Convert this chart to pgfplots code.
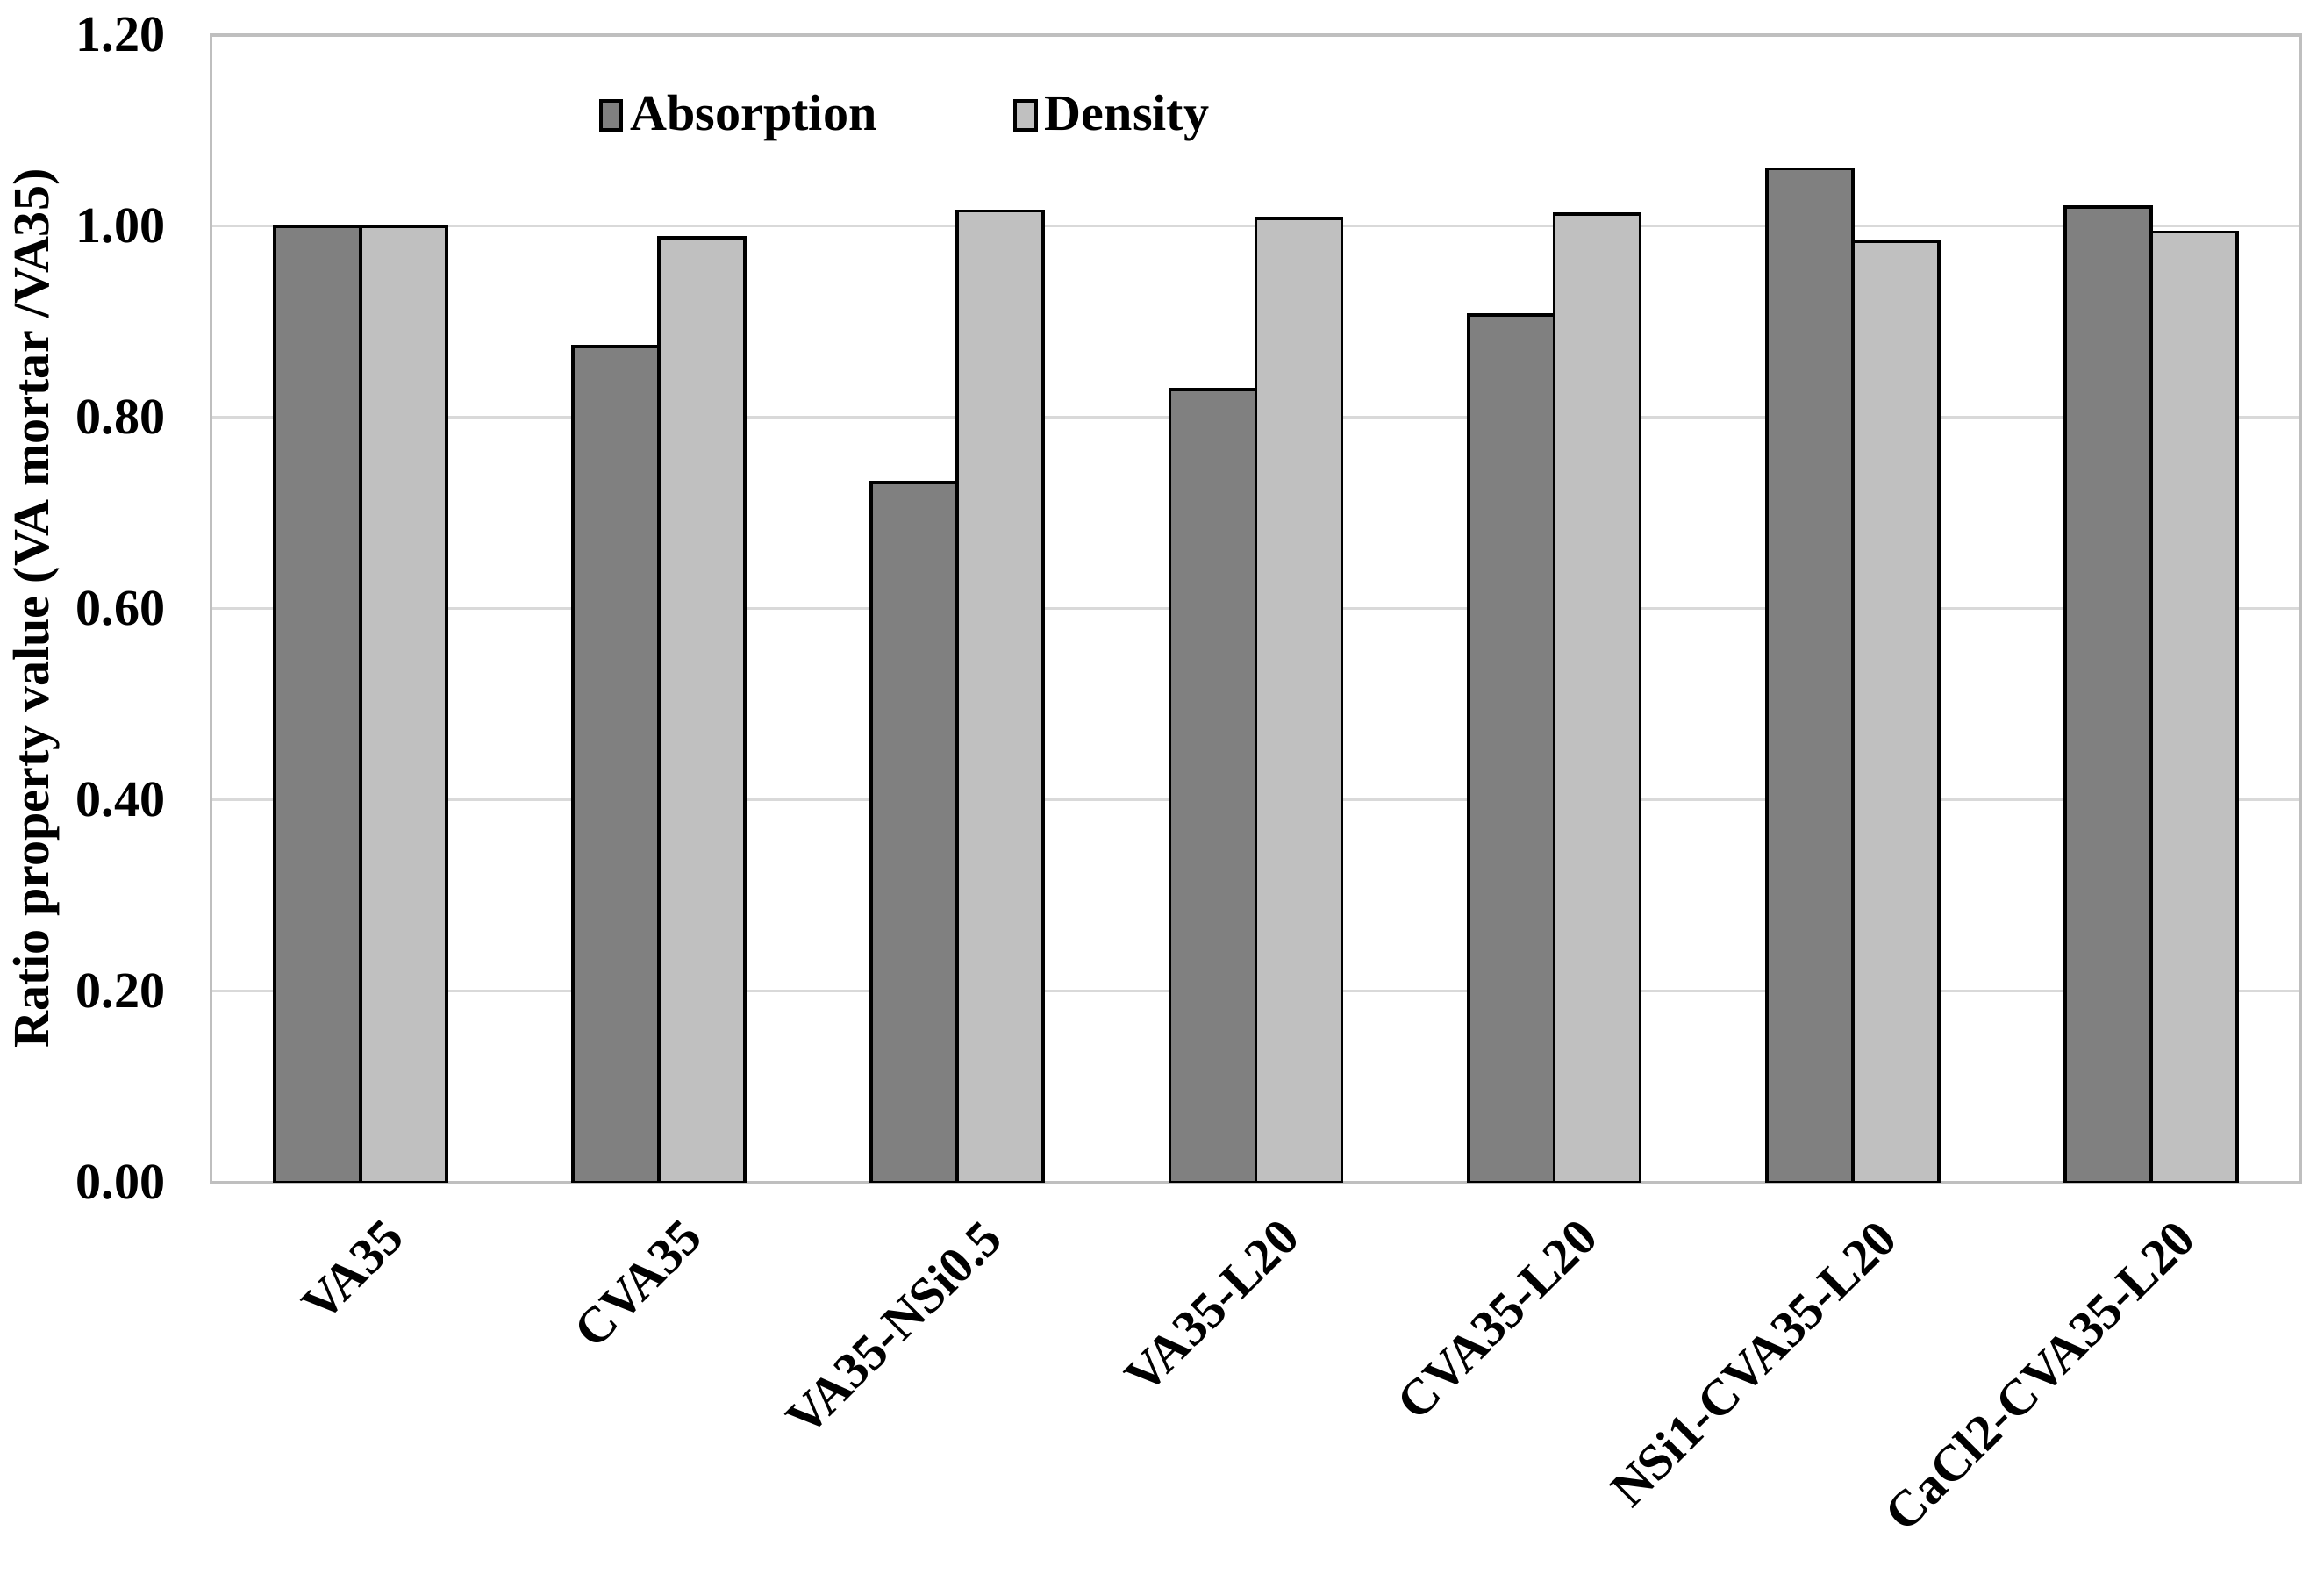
\documentclass[border=0pt]{standalone}
\usepackage{pgfplots}
\pgfplotsset{compat=1.18}
\usepackage{fontspec}
\setmainfont{Liberation Serif}
\usetikzlibrary{calc}
\definecolor{absc}{HTML}{808080}
\definecolor{denc}{HTML}{C0C0C0}
\definecolor{gridc}{HTML}{D9D9D9}
\definecolor{framec}{HTML}{BFBFBF}
\newcommand{\lab}{\fontsize{14}{17}\selectfont\bfseries}

\begin{document}
\begin{tikzpicture}
\begin{axis}[
    name=ax,
    scale only axis,
    width=20.16cm,
    height=11.07cm,
    ybar=0pt,
    bar width=0.288,
    xmin=-0.5, xmax=6.5,
    ymin=0, ymax=1.2,
    ytick={0,0.2,0.4,0.6,0.8,1.0,1.2},
    xtick={0,1,2,3,4,5,6},
    xticklabels={VA35, CVA35, VA35-NSi0.5, VA35-L20, CVA35-L20, NSi1-CVA35-L20, CaCl2-CVA35-L20},
    ymajorgrids,
    grid style={gridc, line width=0.75pt},
    axis line style={framec, line width=0.75pt},
    major tick length=0pt,
    tick style={draw=none},
    yticklabel style={font=\lab, inner sep=0pt, xshift=-0.44cm,
        /pgf/number format/.cd, fixed, fixed zerofill, precision=2, assume math mode=true},
    xticklabel style={font=\lab, rotate=45, anchor=north east, inner sep=0pt, yshift=-0.38cm, xshift=-0.08cm},
    ylabel={Ratio property value (VA mortar /VA35)},
    ylabel style={font=\lab, at={(axis description cs:-0.0836,0.5)}, anchor=center},
    legend style={draw=none, fill=none, at={(0.18,0.93)}, anchor=west, font=\lab,
        legend columns=2, /tikz/every even column/.append style={column sep=1.25cm}},
    legend image code/.code={\draw[#1] (0cm,-0.14cm) rectangle (0.2cm,0.14cm);},
]
\addplot[fill=absc, draw=black, line width=0.9pt, bar shift=-0.144] coordinates {
    (0,1.000) (1,0.874) (2,0.732) (3,0.829) (4,0.907) (5,1.060) (6,1.020)
};
\addplot[fill=denc, draw=black, line width=0.9pt, bar shift=0.144] coordinates {
    (0,1.000) (1,0.988) (2,1.016) (3,1.008) (4,1.013) (5,0.984) (6,0.994)
};
\legend{Absorption, Density}
\end{axis}
\pgfresetboundingbox
\path ($(ax.south west)+(-2.04cm,-3.776cm)$) rectangle ($(ax.north east)+(0.229cm,0.339cm)$);
\end{tikzpicture}
\end{document}
